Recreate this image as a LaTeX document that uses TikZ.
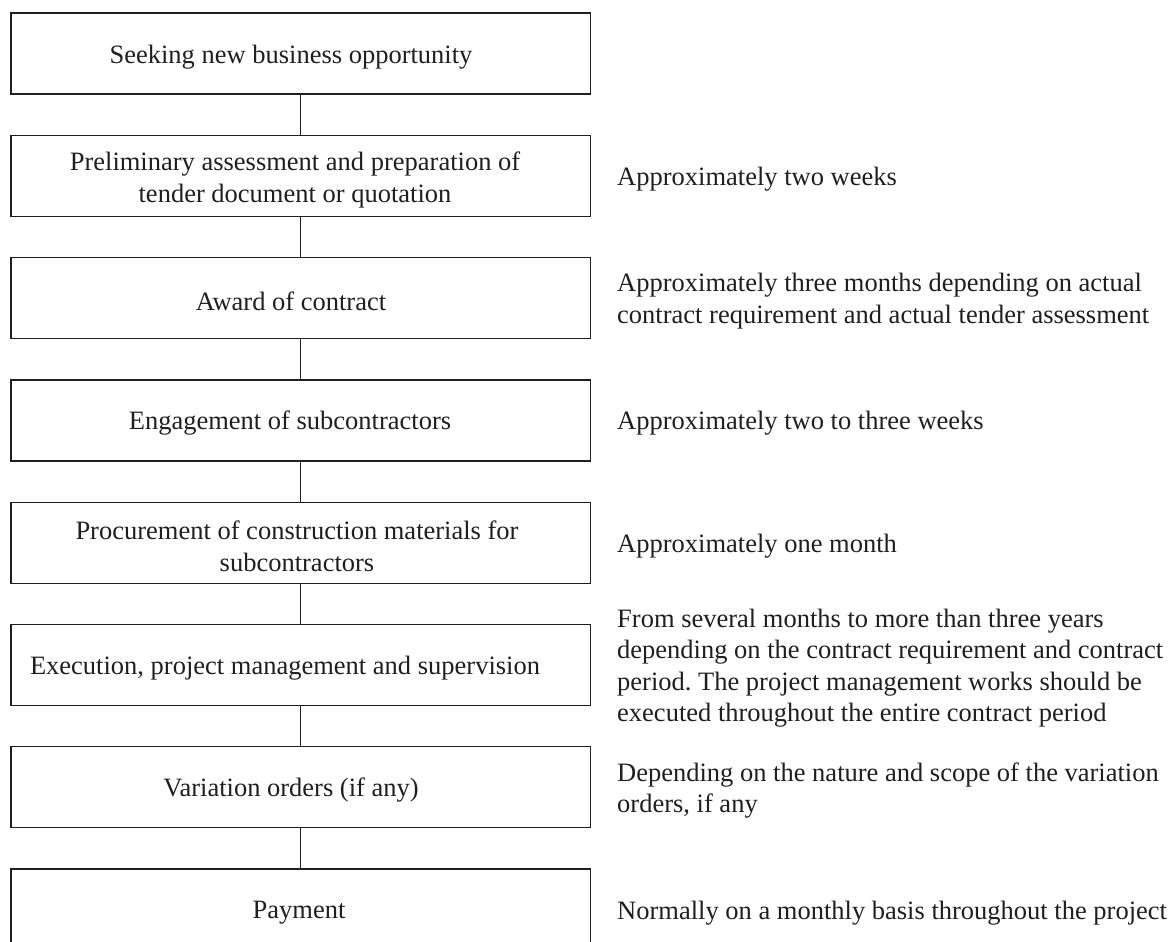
\documentclass[tikz,border=0pt]{standalone}
\usepackage{fontspec}
\setmainfont{Liberation Serif}
\frenchspacing
\begin{document}
\begin{tikzpicture}[x=1pt,y=-1pt,
  stepbox/.style={draw=black!88,line width=1.3pt,minimum width=579.5pt,minimum height=81pt,inner sep=0pt},
  btext/.style={inner sep=0pt,font=\fontsize{26.5}{32}\selectfont,align=center,text=black!88},
  note/.style={anchor=west,inner sep=0pt,font=\fontsize{26.5}{31.5}\selectfont,align=left,text=black!88},
  link/.style={draw=black!88,line width=1pt}]
\useasboundingbox (0,0) rectangle (1171,942);
\clip (0,0) rectangle (1171,942);
\def\bx{300.75}
\node[stepbox] (b1) at (\bx,53.5) {};
\node[stepbox] (b2) at (\bx,175.8) {};
\node[stepbox] (b3) at (\bx,298.1) {};
\node[stepbox] (b4) at (\bx,420.4) {};
\node[stepbox] (b5) at (\bx,542.7) {};
\node[stepbox] (b6) at (\bx,665) {};
\node[stepbox] (b7) at (\bx,787.3) {};
\node[stepbox] (b8) at (\bx,909.6) {};
\node[btext] (t1) at (291,57) {Seeking new business opportunity};
\node[btext] (t2) at (295,179.5) {Preliminary assessment and preparation of\\tender document or quotation};
\node[btext] (t3) at (291,301.5) {Award of contract};
\node[btext] (t4) at (290,423.5) {Engagement of subcontractors};
\node[btext] (t5) at (297,546) {Procurement of construction materials for\\subcontractors};
\node[btext] (t6) at (285,668) {Execution, project management and supervision};
\node[btext] (t7) at (291,790.5) {Variation orders (if any)};
\node[btext] (t8) at (299,913) {Payment};
\foreach \a/\b in {b1/b2,b2/b3,b3/b4,b4/b5,b5/b6,b6/b7,b7/b8}
  \draw[link] (\a.south) -- (\b.north);
\node[note] (n2) at (617,179) {Approximately two weeks};
\node[note] (n3) at (617,301) {Approximately three months depending on actual\\contract requirement and actual tender assessment};
\node[note] (n4) at (617,423.5) {Approximately two to three weeks};
\node[note] (n5) at (617,546) {Approximately one month};
\node[note] (n6) at (617,668) {From several months to more than three years\\depending on the contract requirement and contract\\period. The project management works should be\\executed throughout the entire contract period};
\node[note] (n7) at (617,790.5) {Depending on the nature and scope of the variation\\orders, if any};
\node[note] (n8) at (617,913) {Normally on a monthly basis throughout the project};
\end{tikzpicture}
\end{document}
